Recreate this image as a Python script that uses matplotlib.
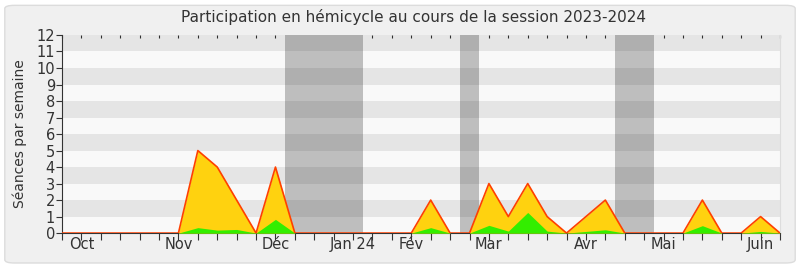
import matplotlib
matplotlib.use('Agg')
import matplotlib.pyplot as plt
from matplotlib.patches import FancyBboxPatch
import numpy as np

# weekly values, one per week of the session
weeks = np.arange(38)
total = [0, 0, 0, 0, 0, 0, 0, 5, 4, 2, 0, 4, 0, 0, 0, 0, 0, 0, 0, 2,
         0, 0, 3, 1, 3, 1, 0, 1, 2, 0, 0, 0, 0, 2, 0, 0, 1, 0]
present = [0, 0, 0, 0, 0, 0, 0, 0.33, 0.18, 0.22, 0, 0.83, 0, 0, 0, 0, 0, 0, 0, 0.33,
           0, 0, 0.47, 0.12, 1.25, 0.12, 0, 0.1, 0.2, 0, 0, 0, 0, 0.45, 0, 0, 0.1, 0]

# holiday breaks (start, end) in week units
breaks = [(11.5, 15.5), (20.5, 21.5), (28.5, 30.5)]

month_pos = [1, 6, 11, 15, 18, 22, 27, 31, 36]
month_lbl = ['Oct', 'Nov', 'Déc', 'Jan 24', 'Fév', 'Mar', 'Avr', 'Mai', 'Juin']

fig = plt.figure(figsize=(8, 2.67), dpi=100)
fig.patch.set_facecolor('white')
fig.patches.append(FancyBboxPatch((0.006, 0.015), 0.988, 0.965,
                                  boxstyle='round,pad=0,rounding_size=0.012',
                                  transform=fig.transFigure, facecolor='#f0f0f0',
                                  edgecolor='#dcdcdc', linewidth=1, zorder=-10))
ax = fig.add_axes([0.0775, 0.127, 0.8975, 0.742])
ax.set_facecolor('#f9f9f9')

# horizontal stripes
for y in range(1, 12, 2):
    ax.axhspan(y, y + 1, color='black', alpha=0.08, lw=0, zorder=2)
for a, b in breaks:
    ax.axvspan(a, b, color='#bebebe', lw=0, zorder=1)

ax.fill_between(weeks, total, color='#ffd20f', lw=0, zorder=3)
ax.fill_between(weeks, present, color='#33ee00', lw=0, zorder=4)
ax.plot(weeks, total, color='#ff4000', lw=1.2, zorder=5)

ax.set_xlim(0, 37)
ax.set_ylim(0, 12)
ax.set_yticks(range(13))
ax.xaxis.remove_overlapping_locs = False
ax.set_xticks(weeks)
ax.set_xticklabels([''] * len(weeks))
ax.set_xticks(month_pos, minor=True)
ax.set_xticklabels(month_lbl, minor=True)
ax.tick_params(axis='x', which='minor', length=0, pad=3, labelsize=10.5, labelcolor='#333333')
ax.tick_params(axis='x', which='major', length=5, color='#333333', direction='out')
ax.tick_params(axis='y', length=4, color='#333333', labelsize=10.5, labelcolor='#333333', pad=1)

# small inward ticks along the top edge
top = ax.secondary_xaxis('top')
top.set_xticks(weeks)
top.set_xticklabels([])
top.tick_params(direction='in', length=2, color='#333333')
top.spines['top'].set_visible(False)

ax.spines['top'].set_visible(False)
ax.spines['right'].set_color('#dddddd')
ax.spines['left'].set_color('#333333')
ax.spines['bottom'].set_color('#333333')

ax.set_ylabel('Séances par semaine', fontsize=10, color='#333333', labelpad=7)
fig.text(0.517, 0.935, 'Participation en hémicycle au cours de la session 2023-2024',
         fontsize=11, color='#333333', ha='center', va='center')

fig.savefig('out.png', dpi=100, facecolor=fig.get_facecolor())
